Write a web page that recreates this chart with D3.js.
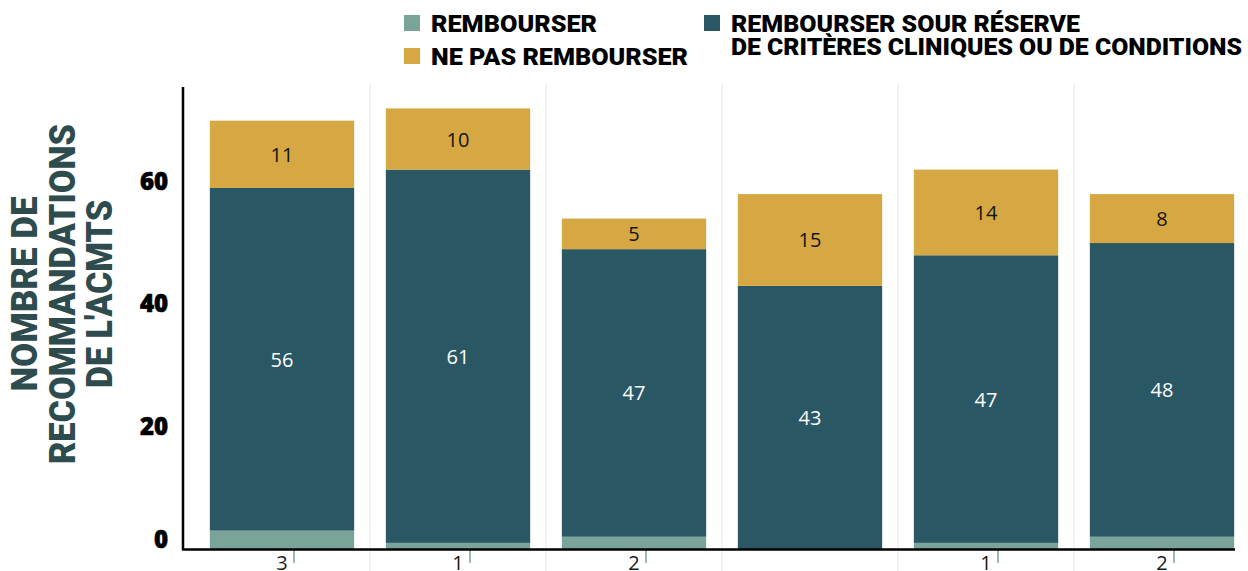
<!DOCTYPE html>
<html lang="fr">
<head>
<meta charset="utf-8">
<script src="https://cdn.jsdelivr.net/npm/d3@7"></script>
<style>
  html, body { margin: 0; padding: 0; background: #fff; }
  svg { display: block; }
</style>
</head>
<body>
<svg id="chart" width="1248" height="571"></svg>
<script>
// Recommandations de l'ACMTS par groupe, empilées par type de recommandation
const categories = ["Groupe 1", "Groupe 2", "Groupe 3", "Groupe 4", "Groupe 5", "Groupe 6"];
const rembourser = [3, 1, 2, 0, 1, 2];
const sousReserve = [56, 61, 47, 43, 47, 48];
const nePasRembourser = [11, 10, 5, 15, 14, 8];
const yTicks = [0, 20, 40, 60];

const seriesKeys = ["rembourser", "sousReserve", "nePas"];
const colors = { rembourser: "#7aa39a", sousReserve: "#295763", nePas: "#d5a843" };

const rows = categories.map((c, i) => ({
  cat: c,
  rembourser: rembourser[i],
  sousReserve: sousReserve[i],
  nePas: nePasRembourser[i]
}));

const svg = d3.select("#chart");

const x = d3.scaleBand()
  .domain(categories)
  .range([194, 1250])
  .paddingInner(0.18)
  .paddingOuter(0.09);

const y = d3.scaleLinear().domain([0, 75.5]).range([549, 87]);

const stacked = d3.stack().keys(seriesKeys)(rows);

// vertical separators between groups
const gap = x.step() - x.bandwidth();
svg.append("g")
  .selectAll("line")
  .data(categories.slice(1))
  .join("line")
  .attr("x1", d => x(d) - gap / 2)
  .attr("x2", d => x(d) - gap / 2)
  .attr("y1", 83)
  .attr("y2", 571)
  .attr("stroke", "#efefef")
  .attr("stroke-width", 1.5);

// stacked bars
const layers = svg.append("g")
  .selectAll("g")
  .data(stacked)
  .join("g")
  .attr("fill", d => colors[d.key]);

layers.selectAll("rect")
  .data(d => d)
  .join("rect")
  .attr("x", d => x(d.data.cat))
  .attr("width", x.bandwidth())
  .attr("y", d => y(d[1]))
  .attr("height", d => y(d[0]) - y(d[1]));

// value labels inside the two upper segments
const labelFont = "'Open Sans', 'Noto Sans', sans-serif";
[["sousReserve", "#ffffff"], ["nePas", "#141414"]].forEach(([key, fill]) => {
  const layer = stacked.find(s => s.key === key);
  svg.append("g")
    .selectAll("text")
    .data(layer.filter(d => d[1] - d[0] > 0))
    .join("text")
    .attr("x", d => x(d.data.cat) + x.bandwidth() / 2)
    .attr("y", d => (y(d[0]) + y(d[1])) / 2)
    .attr("text-anchor", "middle")
    .attr("dominant-baseline", "central")
    .attr("font-family", labelFont)
    .attr("font-size", 20)
    .attr("fill", fill)
    .text(d => d[1] - d[0]);
});

// "Rembourser" counts sit under the axis with a small leader tick
const bottomLayer = stacked.find(s => s.key === "rembourser").filter(d => d[1] - d[0] > 0);
const bottomG = svg.append("g");
bottomG.selectAll("line")
  .data(bottomLayer)
  .join("line")
  .attr("x1", d => x(d.data.cat) + x.bandwidth() / 2 + 12)
  .attr("x2", d => x(d.data.cat) + x.bandwidth() / 2 + 12)
  .attr("y1", y(0))
  .attr("y2", y(0) + 14)
  .attr("stroke", "#7aa39a")
  .attr("stroke-width", 1.5);
bottomG.selectAll("text")
  .data(bottomLayer)
  .join("text")
  .attr("x", d => x(d.data.cat) + x.bandwidth() / 2)
  .attr("y", 570)
  .attr("text-anchor", "middle")
  .attr("font-family", labelFont)
  .attr("font-size", 20)
  .attr("fill", "#1a1a1a")
  .text(d => d[1] - d[0]);

// axes
const yAxis = d3.axisLeft(y).tickValues(yTicks).tickSize(0).tickPadding(15);
const yAxisG = svg.append("g")
  .attr("transform", "translate(183,0)")
  .call(yAxis);
yAxisG.select(".domain").remove();
yAxisG.selectAll("text")
  .attr("font-family", "'Open Sans', sans-serif")
  .attr("font-weight", 800)
  .attr("font-size", 24)
  .attr("fill", "#000")
  .attr("stroke", "#000")
  .attr("stroke-width", 0.6)
  .attr("dy", d => d === 0 ? "-0.05em" : "0.32em");

svg.append("line")
  .attr("x1", 183).attr("x2", 183)
  .attr("y1", 87).attr("y2", y(0) + 1)
  .attr("stroke", "#000").attr("stroke-width", 2.5);
svg.append("line")
  .attr("x1", 182).attr("x2", x.range()[1] - 15)
  .attr("y1", y(0) + 0.5).attr("y2", y(0) + 0.5)
  .attr("stroke", "#000").attr("stroke-width", 2.5);

// y-axis title
const titleLines = [
  { text: "NOMBRE DE", x: 37, len: 195 },
  { text: "RECOMMANDATIONS", x: 75, len: 340 },
  { text: "DE L'ACMTS", x: 112, len: 188 }
];
svg.append("g")
  .selectAll("text")
  .data(titleLines)
  .join("text")
  .attr("transform", d => `translate(${d.x},294) rotate(-90)`)
  .attr("text-anchor", "middle")
  .attr("font-family", "Roboto, sans-serif")
  .attr("font-weight", 900)
  .attr("font-size", 36)
  .attr("fill", "#2e4b4d")
  .attr("textLength", d => d.len)
  .attr("lengthAdjust", "spacingAndGlyphs")
  .text(d => d.text);

// legend
const legendItems = [
  { key: "rembourser", x: 404, y: 15, lines: [{ t: "REMBOURSER", len: 166 }] },
  { key: "nePas", x: 404, y: 48, lines: [{ t: "NE PAS REMBOURSER", len: 257 }] },
  { key: "sousReserve", x: 704, y: 15, lines: [
      { t: "REMBOURSER SOUR RÉSERVE", len: 349 },
      { t: "DE CRITÈRES CLINIQUES OU DE CONDITIONS", len: 511 }
  ] }
];
const legend = svg.append("g")
  .selectAll("g")
  .data(legendItems)
  .join("g")
  .attr("transform", d => `translate(${d.x},${d.y})`);
legend.append("rect")
  .attr("width", 16).attr("height", 16)
  .attr("fill", d => colors[d.key]);
legend.selectAll("text")
  .data(d => d.lines)
  .join("text")
  .attr("x", 27)
  .attr("y", (d, i) => 17 + i * 23)
  .attr("font-family", "Roboto, sans-serif")
  .attr("font-weight", 900)
  .attr("font-size", 23.5)
  .attr("fill", "#000")
  .attr("textLength", d => d.len)
  .attr("lengthAdjust", "spacingAndGlyphs")
  .text(d => d.t);
</script>
</body>
</html>
